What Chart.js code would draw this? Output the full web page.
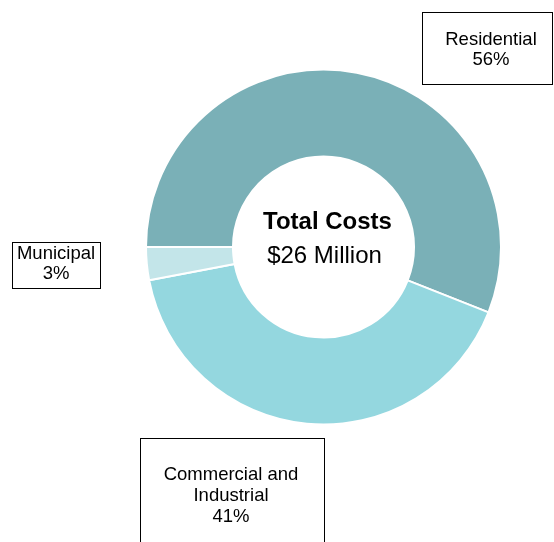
<!DOCTYPE html>
<html>
<head>
<meta charset="utf-8">
<script src="https://cdn.jsdelivr.net/npm/chart.js@4/dist/chart.umd.min.js"></script>
<style>
  html, body { margin: 0; padding: 0; background: #fff; }
  #wrap { width: 554px; height: 542px; position: relative; }
</style>
</head>
<body>
<div id="wrap"><canvas id="c" width="554" height="542"></canvas></div>
<script>
const categories = ['Residential', 'Commercial and Industrial', 'Municipal'];
const shares = [56, 41, 3];
const labelLines = [['Residential'], ['Commercial and', 'Industrial'], ['Municipal']];
const colors = ['#7AB0B7', '#94D7DF', '#C3E5E9'];
const centerTitle = 'Total Costs';
const centerValue = '$26 Million';

// label box layout (pixel boxes for the callouts)
const boxes = [
  { x: 422, y: 12, w: 130, h: 72, tx: 491, cy: 39.5 },
  { x: 140, y: 438, w: 184, h: 120, tx: 231, cy: 475 },
  { x: 12, y: 242, w: 88, h: 46, tx: 56, cy: 253.5 }
];

const FONT = '"Liberation Sans", Arial, sans-serif';

const labelPlugin = {
  id: 'labelBoxes',
  afterDraw(chart) {
    const ctx = chart.ctx;
    ctx.save();
    const meta = chart.getDatasetMeta(0);
    const arc = meta.data[0];
    const cx = arc.x, cy = arc.y;
    ctx.fillStyle = '#000';
    ctx.textAlign = 'center';
    ctx.textBaseline = 'middle';
    ctx.font = 'bold 24px ' + FONT;
    ctx.fillText(centerTitle, cx + 4, cy - 25);
    ctx.font = '24px ' + FONT;
    ctx.fillText(centerValue, cx + 1, cy + 9);

    ctx.font = '18.5px ' + FONT;
    boxes.forEach((b, i) => {
      ctx.strokeStyle = '#000';
      ctx.lineWidth = 1;
      ctx.strokeRect(Math.round(b.x) + 0.5, Math.round(b.y) + 0.5, b.w, b.h);
      const lines = labelLines[i].concat([shares[i] + '%']);
      lines.forEach((t, j) => {
        ctx.fillText(t, b.tx, b.cy + j * 20.8);
      });
    });
    ctx.restore();
  }
};

new Chart(document.getElementById('c'), {
  type: 'doughnut',
  data: {
    labels: categories,
    datasets: [{
      data: shares,
      backgroundColor: colors,
      borderColor: '#ffffff',
      borderWidth: 2
    }]
  },
  options: {
    responsive: false,
    devicePixelRatio: 1,
    animation: false,
    rotation: -90,
    cutout: '51%',
    layout: { padding: { left: 145, right: 52, top: 68.5, bottom: 116.5 } },
    events: [],
    plugins: {
      legend: { display: false },
      tooltip: { enabled: false }
    }
  },
  plugins: [labelPlugin]
});
</script>
</body>
</html>
